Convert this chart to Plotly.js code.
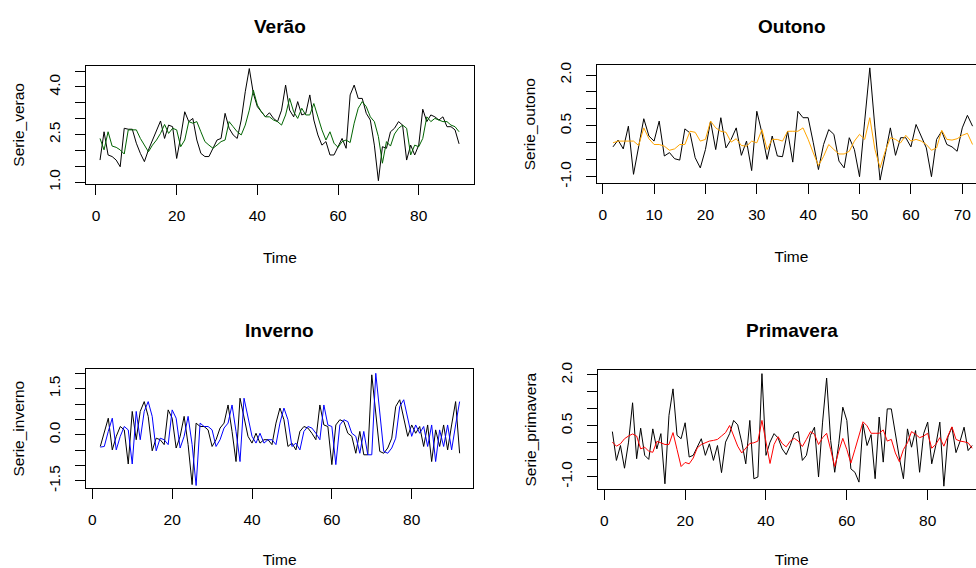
<!DOCTYPE html>
<html>
<head>
<meta charset="utf-8">
<script src="https://cdn.plot.ly/plotly-3.0.1.min.js"></script>
<style>
html,body{margin:0;padding:0;overflow:hidden;background:#fff;width:976px;height:568px;}
#chart{width:1000px;height:568px;}
</style>
</head>
<body>
<div id="chart"></div>
<script>
// ---------- data ----------
const verao_t = Array.from({length: 90}, (_, i) => i + 1);
const verao_obs = [1.70,2.59,1.86,1.81,1.70,1.49,2.70,2.67,2.67,2.23,
  1.91,1.65,2.02,2.33,2.59,2.93,2.38,2.80,2.75,1.75,
  2.43,3.22,2.91,3.01,2.33,1.91,1.81,1.81,2.07,2.33,
  2.38,3.17,2.70,2.49,2.38,2.96,3.85,4.58,3.80,3.38,
  3.22,3.06,3.19,3.01,2.91,3.27,4.06,3.27,3.06,3.54,
  3.12,3.17,3.75,2.96,2.49,2.17,2.28,1.86,1.86,2.12,
  2.38,2.07,3.75,4.06,3.64,3.64,3.17,2.96,2.17,1.05,
  2.12,2.07,2.59,2.70,2.91,2.80,1.70,2.17,1.86,2.17,
  3.30,2.91,3.12,3.06,2.96,3.06,2.75,2.75,2.65,2.21];
const verao_fit = [2.38,2.02,2.59,2.14,2.10,2.02,1.89,2.65,2.65,2.65,
  2.38,2.17,1.96,2.17,2.33,2.54,2.82,2.54,2.70,2.65,
  2.12,2.33,2.91,2.86,2.91,2.59,2.28,2.17,2.07,2.17,
  2.28,2.33,2.91,2.75,2.59,2.49,2.80,3.27,3.90,3.43,
  3.22,3.06,3.06,2.96,2.91,2.80,3.12,3.64,3.22,3.01,
  3.33,3.12,3.12,3.48,3.06,2.65,2.33,2.59,2.23,2.10,
  2.28,2.33,2.25,2.86,3.33,3.54,3.38,3.06,2.91,2.44,
  1.60,2.28,2.14,2.52,2.70,2.80,2.70,1.86,2.17,2.12,
  2.38,3.06,2.91,3.01,2.96,2.91,2.91,2.80,2.75,2.59];

const outono_t = Array.from({length: 71}, (_, i) => i + 2);
const outono_obs = [-0.12,0.08,-0.18,0.49,-0.93,-0.05,0.71,0.20,0.05,0.64,
  -0.39,-0.29,-0.47,-0.51,0.41,0.29,-0.44,-0.74,-0.20,0.64,
  -0.20,0.74,-0.15,0.10,0.44,-0.37,0.05,-0.82,0.93,0.29,
  -0.49,0.20,-0.39,-0.41,0.34,-0.57,0.93,0.74,0.74,0.00,
  -0.79,-0.05,0.39,0.25,-0.54,-0.74,0.15,-0.20,-1.00,0.64,
  2.21,0.44,-1.10,-0.34,0.44,-0.37,0.15,0.15,-0.12,0.54,
  0.20,-0.15,-1.00,0.10,0.34,-0.05,-0.12,-0.25,0.44,0.81,
  0.49];
const outono_fit = [0.00,0.05,0.05,0.05,0.05,-0.08,0.44,0.12,-0.05,-0.05,
  -0.10,-0.22,-0.18,-0.05,-0.05,0.34,0.31,0.05,0.10,0.64,
  0.44,0.34,0.31,0.02,0.12,-0.08,-0.10,0.05,0.00,0.39,
  -0.20,0.10,0.10,0.05,0.34,0.34,0.34,0.44,0.10,-0.30,
  -0.67,-0.40,-0.05,-0.20,-0.33,-0.33,-0.25,0.05,0.25,0.10,
  0.74,-0.20,-0.74,-0.25,0.15,0.10,0.00,0.22,0.05,0.10,
  0.05,-0.05,-0.22,-0.15,0.37,0.10,0.08,0.12,0.22,0.28,
  -0.05];

const inverno_t = Array.from({length: 91}, (_, i) => i + 2);
const inverno_obs = [-0.38,0.11,0.54,-0.49,-0.05,0.27,0.16,-0.95,0.76,-0.16,
  0.76,1.08,0.60,-0.52,-0.11,-0.16,-0.32,0.81,0.54,-0.43,
  -0.05,0.60,-0.32,-1.62,0.38,0.27,0.27,0.16,-0.38,-0.16,
  0.22,0.38,0.97,0.11,-0.87,1.19,0.54,-0.05,-0.27,0.05,
  -0.27,-0.16,-0.16,-0.32,0.38,0.87,0.49,-0.38,-0.27,-0.49,
  0.11,0.27,0.22,0.05,-0.16,0.97,0.32,0.27,-0.97,0.32,
  0.49,0.43,0.05,-0.05,-0.60,0.11,-0.65,-0.65,1.95,0.76,
  -0.54,-0.60,-0.43,-0.11,0.92,1.14,0.54,-0.05,0.32,0.05,
  0.27,-0.38,0.32,-0.87,0.16,-0.38,0.32,-0.49,0.32,1.08,
  -0.60];
const inverno_fit = [-0.40,-0.38,0.11,0.54,-0.49,-0.05,0.27,0.16,-0.95,0.76,
  -0.16,0.76,1.08,0.60,-0.52,-0.11,-0.16,-0.32,0.81,0.54,
  -0.43,-0.05,0.60,-0.32,-1.65,0.38,0.27,0.27,0.16,-0.38,
  -0.16,0.22,0.38,0.97,0.11,-0.87,1.19,0.54,-0.05,-0.27,
  0.05,-0.27,-0.16,-0.16,-0.32,0.38,0.87,0.49,-0.38,-0.27,
  -0.49,0.11,0.27,0.22,0.05,-0.16,0.97,0.32,0.27,-0.97,
  0.32,0.49,0.43,0.05,-0.05,-0.60,0.11,-0.65,-0.65,2.00,
  0.76,-0.54,-0.60,-0.43,-0.11,0.92,1.14,0.54,-0.05,0.32,
  0.05,0.27,-0.38,0.32,-0.87,0.16,-0.38,0.32,-0.49,0.32,
  1.08];

const primavera_t = Array.from({length: 90}, (_, i) => i + 2);
const primavera_obs = [0.33,-0.52,-0.08,-0.75,0.02,1.18,-0.47,0.43,-0.37,-0.49,
  0.41,-0.18,0.27,-1.21,0.81,1.59,0.22,0.12,0.59,-0.42,
  -0.37,-0.13,0.12,-0.37,-0.03,-0.52,-0.08,-0.88,0.02,0.27,
  0.66,0.53,0.02,-0.62,0.66,-1.06,-1.01,2.04,-0.37,0.02,
  0.27,0.14,-0.18,-0.35,-0.08,0.27,0.33,-0.52,-0.37,0.22,
  0.46,-1.01,0.61,1.91,0.07,-0.87,-0.03,1.05,0.66,-0.77,
  -0.87,-1.16,0.56,-0.08,0.24,-1.06,0.76,-0.57,1.00,1.00,
  0.22,-0.45,-1.06,0.41,-0.13,0.36,-0.87,0.27,0.61,-0.62,
  -0.08,0.61,-1.28,0.17,0.46,-0.29,0.04,0.46,-0.23,-0.08];
const primavera_fit = [0.02,-0.10,-0.03,0.12,0.20,0.26,0.20,-0.18,-0.13,-0.25,
  -0.28,0.04,0.00,-0.05,-0.05,0.30,-0.20,-0.70,-0.58,-0.62,
  -0.45,-0.15,-0.05,0.00,0.05,0.07,0.10,0.20,0.30,0.51,
  0.20,-0.10,-0.30,-0.15,-0.02,0.00,0.05,0.66,0.00,-0.61,
  -0.05,0.18,-0.02,-0.12,0.05,0.13,0.05,-0.11,0.10,0.33,
  0.25,-0.05,0.15,0.28,-0.20,-0.70,-0.25,0.13,-0.20,-0.60,
  -0.20,0.20,0.62,0.50,0.28,0.28,0.28,0.38,0.05,0.10,
  -0.30,-0.56,-0.20,0.00,0.33,0.25,0.15,0.20,0.28,-0.16,
  -0.05,0.15,-0.10,0.20,0.47,0.10,0.05,0.03,0.00,-0.16];

const titles = ['Verão', 'Outono', 'Inverno', 'Primavera'];
const ytitles = ['Serie_verao', 'Serie_outono', 'Serie_inverno', 'Serie_primavera'];
const xtitle = 'Time';

const verao_yticks = [1.0,1.5,2.0,2.5,3.0,3.5,4.0,4.5];
const verao_ylabels = ['1.0','','','2.5','','','4.0',''];
const outono_yticks = [-1.0,-0.5,0.0,0.5,1.0,1.5,2.0];
const outono_ylabels = ['-1.0','','','0.5','','','2.0'];
const inverno_yticks = [-1.5,-1.0,-0.5,0.0,0.5,1.0,1.5,2.0];
const inverno_ylabels = ['-1.5','','','0.0','','','1.5',''];
const primavera_yticks = [-1.0,-0.5,0.0,0.5,1.0,1.5,2.0];
const primavera_ylabels = ['-1.0','','','0.5','','','2.0'];
const x_ticks20 = [0,20,40,60,80];
const x_ticks10 = [0,10,20,30,40,50,60,70];

// ---------- chart ----------
const W = 1000, H = 568;
const FONT = 'Liberation Sans, Arial, sans-serif';
const px = v => v / W;
const py = v => 1 - v / H;

function line(x, y, color, ax) {
  return {x: x, y: y, type: 'scatter', mode: 'lines', line: {color: color, width: 1},
          xaxis: 'x' + ax, yaxis: 'y' + ax, hoverinfo: 'skip', showlegend: false};
}

const data = [
  line(verao_t, verao_obs, '#000000', ''),
  line(verao_t, verao_fit, '#006400', ''),
  line(outono_t, outono_obs, '#000000', '2'),
  line(outono_t, outono_fit, '#FFA500', '2'),
  line(inverno_t, inverno_obs, '#000000', '3'),
  line(inverno_t, inverno_fit, '#0000FF', '3'),
  line(primavera_t, primavera_obs, '#000000', '4'),
  line(primavera_t, primavera_fit, '#FF0000', '4')
];
data[0].xaxis = 'x'; data[0].yaxis = 'y';
data[1].xaxis = 'x'; data[1].yaxis = 'y';

const baseAxis = {
  showline: true, mirror: true, linecolor: '#000', linewidth: 1,
  ticks: 'outside', ticklen: 10, tickwidth: 1, tickcolor: '#000',
  showgrid: false, zeroline: false, fixedrange: true,
  tickfont: {family: FONT, size: 15.5, color: '#000'}
};
function xax(domL, domR, range, ticks, anchor) {
  return Object.assign({}, baseAxis, {
    domain: [px(domL), px(domR)], range: range, anchor: anchor,
    tickmode: 'array', tickvals: ticks, ticktext: ticks.map(String),
    ticklabelstandoff: 7,
    title: {text: xtitle, font: {family: FONT, size: 15.5, color: '#000'}, standoff: 29}
  });
}
function yax(domB, domT, range, ticks, labels, ttl, anchor) {
  return Object.assign({}, baseAxis, {
    domain: [py(domB), py(domT)], range: range, anchor: anchor,
    tickmode: 'array', tickvals: ticks, ticktext: labels, tickangle: -90,
    ticklabelstandoff: 9,
    title: {text: ttl, font: {family: FONT, size: 15.5, color: '#000'}, standoff: 17}
  });
}

const titleFont = {family: FONT, size: 19, color: '#000', weight: 'bold'};
function ttl(text, x, y) {
  return {text: text, x: px(x), y: py(y), xref: 'paper', yref: 'paper',
          xanchor: 'center', yanchor: 'middle', showarrow: false, font: titleFont};
}

const layout = {
  width: W, height: H,
  margin: {l: 0, r: 0, t: 0, b: 0},
  paper_bgcolor: '#fff', plot_bgcolor: '#fff',
  showlegend: false,
  xaxis:  xax(85.7, 474, [-2.55, 93.7], x_ticks20, 'y'),
  yaxis:  yax(184, 65.7, [0.946, 4.67], verao_yticks, verao_ylabels, ytitles[0], 'x'),
  xaxis2: xax(597.3, 985.6, [-1.05, 74.54], x_ticks10, 'y2'),
  yaxis2: yax(183.3, 65, [-1.195, 2.295], outono_yticks, outono_ylabels, ytitles[1], 'x2'),
  xaxis3: xax(86, 473.3, [-1.58, 95.43], x_ticks20, 'y3'),
  yaxis3: yax(488.3, 369, [-1.74, 2.14], inverno_yticks, inverno_ylabels, ytitles[2], 'x3'),
  xaxis4: xax(597.7, 985.7, [-1.63, 94.35], x_ticks20, 'y4'),
  yaxis4: yax(489.3, 370, [-1.372, 2.147], primavera_yticks, primavera_ylabels, ytitles[3], 'x4'),
  annotations: [
    ttl(titles[0], 279.5, 27),
    ttl(titles[1], 791.5, 27),
    ttl(titles[2], 279.5, 331),
    ttl(titles[3], 791.5, 331)
  ]
};

Plotly.newPlot('chart', data, layout, {displayModeBar: false, staticPlot: true});
</script>
</body>
</html>
